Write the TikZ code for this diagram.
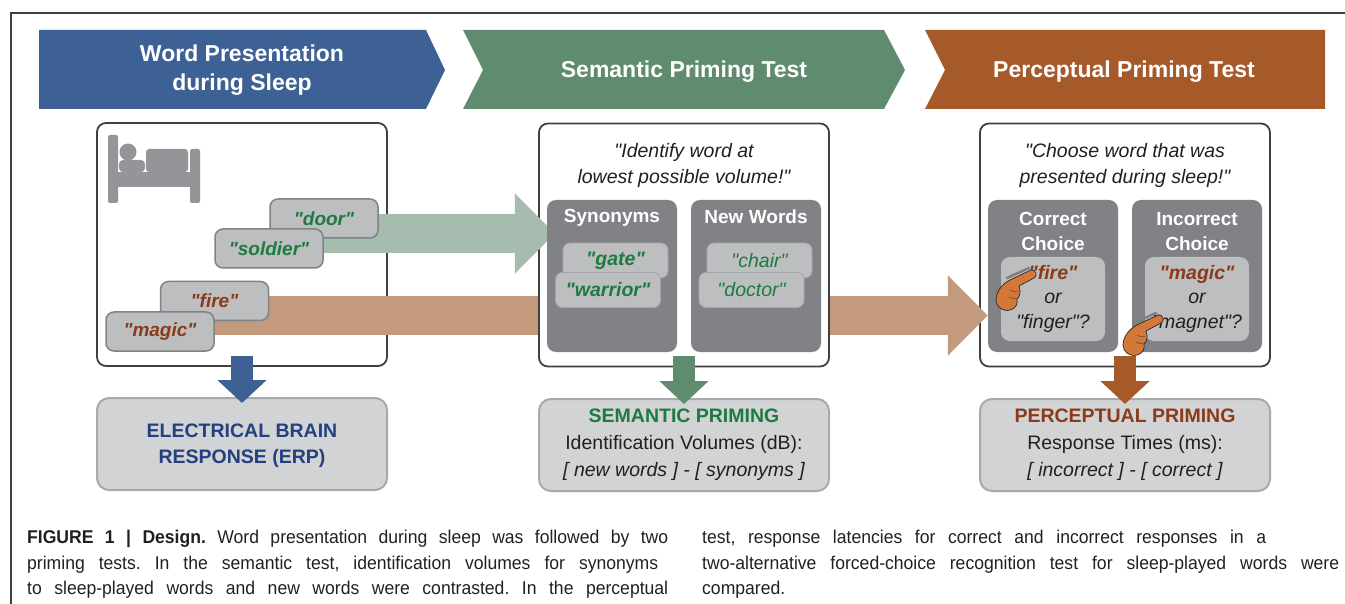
\documentclass[tikz,border=0pt]{standalone}
\usepackage{fontspec}
\setmainfont{Liberation Sans}[Ligatures=TeXOff]
\newfontfamily\capfont{Liberation Sans}[FakeStretch=0.95]
\usetikzlibrary{arrows.meta}
\frenchspacing
\definecolor{cblue}{HTML}{3D6194}
\definecolor{cgreen}{HTML}{5F8B6F}
\definecolor{corange}{HTML}{A65A2A}
\definecolor{sagec}{HTML}{A6BCAF}
\definecolor{tanc}{HTML}{C49A7F}
\definecolor{dgray}{HTML}{808285}
\definecolor{lgray}{HTML}{BCBEC0}
\definecolor{igray}{HTML}{A3A5A8}
\definecolor{bgray}{HTML}{D1D3D4}
\definecolor{bedge}{HTML}{A7A9AC}
\definecolor{bedc}{HTML}{939598}
\definecolor{tgreen}{HTML}{1E7B40}
\definecolor{tbrown}{HTML}{8B3A1A}
\definecolor{tblue}{HTML}{24407F}
\definecolor{handc}{HTML}{D4783A}
\definecolor{framec}{HTML}{404040}
\definecolor{txt}{HTML}{231F20}
\pgfdeclarelayer{lone}
\pgfdeclarelayer{ltwo}
\pgfdeclarelayer{lthree}
\pgfdeclarelayer{lfour}
\pgfsetlayers{lone,ltwo,lthree,lfour,main}
\tikzset{
 panel/.style={draw=framec, line width=1.8pt, rounded corners=9pt, fill=white, minimum width=290pt, minimum height=243pt, inner sep=0pt},
 wordbox/.style={draw=dgray, fill=lgray, line width=1.5pt, rounded corners=8pt, minimum width=108pt, minimum height=39pt, inner sep=0pt, font=\fontsize{19}{22}\selectfont\bfseries\itshape},
 catbox/.style={fill=dgray, rounded corners=9pt, minimum width=130pt, minimum height=152pt, inner sep=0pt},
 inbox/.style={fill=lgray, draw=igray, line width=0.8pt, rounded corners=7pt, minimum width=105pt, minimum height=35pt, inner sep=0pt, font=\fontsize{19.5}{22}\selectfont\itshape, text=tgreen},
 choicebox/.style={fill=lgray, rounded corners=9pt, minimum width=104pt, minimum height=84pt, inner sep=0pt},
 resbox/.style={fill=bgray, draw=bedge, line width=2pt, rounded corners=12pt, minimum width=290pt, minimum height=92pt, inner sep=0pt, align=center, text=txt, font=\fontsize{19.5}{26.5}\selectfont},
 hdr/.style={text=white, font=\fontsize{23}{28.5}\selectfont\bfseries, align=center},
 cathdr/.style={text=white, font=\fontsize{19}{24.5}\selectfont\bfseries, align=center},
 quotetext/.style={text=txt, font=\fontsize{19.5}{26}\selectfont\itshape, align=center},
 choicetext/.style={text=txt, font=\fontsize{19.5}{24.5}\selectfont\itshape, align=center},
 downarrow/.style={line width=22pt, -{Triangle[width=48pt,length=23pt]}},
 bigarrow/.style={line width=39pt, -{Triangle[width=78pt,length=40pt]}},
 captext/.style={font=\capfont\fontsize{18.5}{25}\selectfont, text=txt, inner sep=0pt, anchor=base west},
 pointer/.pic={
  \draw[line width=2.5pt, black!50, line cap=round] (-27,1) -- (-5,-9);
  \draw[fill=handc, draw=black!85, line width=0.7pt] (-24,3) -- (-3,-7) .. controls (2,-8) and (4,-1) .. (0,1) -- (-15,9) .. controls (-13,14) and (-14,20) .. (-17,22) .. controls (-16,26) and (-18,32) .. (-24,33) .. controls (-31,35) and (-38,30) .. (-38,23) .. controls (-38,15) and (-32,7) .. (-24,3) -- cycle;
  \draw[black!70, line width=0.5pt] (-16,14) .. controls (-20,15) .. (-24,13) (-17,21) .. controls (-21,22) .. (-25,20);
 }
}
\begin{document}
\begin{tikzpicture}[x=1pt,y=-1pt]
\useasboundingbox (0,0) rectangle (1345,604);
\draw[framec, line width=1.5pt] (1345,13) -- (11,13) -- (11,604);
% chevrons
\fill[cblue] (39,30) -- (426,30) -- (445,70) -- (426,109) -- (39,109) -- cycle;
\fill[cgreen] (463,30) -- (884,30) -- (905,70) -- (884,109) -- (463,109) -- (483,70) -- cycle;
\fill[corange] (925,30) -- (1325,30) -- (1325,109) -- (925,109) -- (945,70) -- cycle;
\node[hdr] (h1) at (242,70) {Word Presentation\\during Sleep};
\node[hdr] (h2) at (684,72) {Semantic Priming Test};
\node[hdr] (h3) at (1124,72) {Perceptual Priming Test};
% panels
\begin{pgfonlayer}{lone}
\node[panel] (b1) at (242,244.5) {};
\node[panel] (b3) at (1125,245) {};
\end{pgfonlayer}
\begin{pgfonlayer}{lthree}
\node[panel] (b2) at (684,245) {};
\end{pgfonlayer}
% bed icon
\begin{scope}[bedc]
\fill[rounded corners=2pt] (108,135) rectangle (118,203);
\fill (117,172) rectangle (192,187);
\fill[rounded corners=2pt] (190,149) rectangle (200,203);
\fill (128,152) circle (8.5);
\fill[rounded corners=4pt] (119,160) rectangle (145,172);
\fill[rounded corners=3pt] (146,149) rectangle (188,172);
\end{scope}
% word boxes
\coordinate (gs) at (300,233.5);
\coordinate (ts) at (200,315.5);
\node[wordbox, text=tgreen] (door) at (324,218.5) {"door"};
\node[wordbox, text=tgreen] (soldier) at (269,248.5) {"soldier"};
\node[wordbox, text=tbrown] (fire) at (214.5,301) {"fire"};
\node[wordbox, text=tbrown] (magic) at (160,331.5) {"magic"};
% semantic panel
\node[quotetext] (q2) at (684,165) {"Identify word at\\lowest possible volume!"};
\node[catbox] (syn) at (612,276) {};
\node[catbox] (neww) at (756,276) {};
\node[cathdr] (synh) at (612,218) {Synonyms};
\node[cathdr] (newh) at (756,217) {New Words};
\node[inbox, font=\fontsize{19.5}{22}\selectfont\bfseries\itshape] (gate) at (615.5,260.5) {"gate"};
\node[inbox, font=\fontsize{19.5}{22}\selectfont\bfseries\itshape] (warrior) at (608,290) {"warrior"};
\node[inbox] (chair) at (759.5,260.5) {"chair"};
\node[inbox] (doctor) at (751.5,290) {"doctor"};
% perceptual panel
\node[quotetext] (q3) at (1125,165) {"Choose word that was\\presented during sleep!"};
\node[catbox] (cor) at (1053,276) {};
\node[catbox] (inc) at (1197,276) {};
\node[cathdr] (corh) at (1053,231.5) {Correct\\Choice};
\node[cathdr] (inch) at (1197,231.5) {Incorrect\\Choice};
\node[choicebox] (corin) at (1053,299) {};
\node[choicebox] (incin) at (1197,299) {};
\node[choicetext] (cort) at (1053,298.5) {{\bfseries\color{tbrown}"fire"}\\or\\"finger"?};
\node[choicetext] (inct) at (1197,298.5) {{\bfseries\color{tbrown}"magic"}\\or\\"magnet"?};
\pic at (1034,277) {pointer};
\pic at (1161,322) {pointer};
% big arrows
\begin{pgfonlayer}{ltwo}
\draw[bigarrow, tanc] (ts) -- (ts -| cor.west);
\end{pgfonlayer}
\begin{pgfonlayer}{lfour}
\draw[bigarrow, sagec, shorten >=-8pt] (gs) -- (gs -| syn.west);
\end{pgfonlayer}
% result boxes
\node[resbox] (erp) at (242,444) {};
\node[text=tblue, align=center, font=\fontsize{19.5}{25.5}\selectfont\bfseries] (erpt) at (242,445.5) {ELECTRICAL BRAIN\\RESPONSE (ERP)};
\node[resbox, font=\fontsize{19.5}{27}\selectfont] (sem) at (684,445) {{\bfseries\color{tgreen}SEMANTIC PRIMING}\\Identification Volumes (dB):\\{\itshape [ new words ] - [ synonyms ]}};
\node[resbox, font=\fontsize{19.5}{27}\selectfont] (per) at (1125,445) {{\bfseries\color{tbrown}PERCEPTUAL PRIMING}\\Response Times (ms):\\{\itshape [ incorrect ] - [ correct ]}};
% down arrows
\draw[downarrow, cblue] ([yshift=11pt]b1.south) -- ([yshift=-6pt]erp.north);
\draw[downarrow, cgreen] ([yshift=11pt]b2.south) -- ([yshift=-6pt]sem.north);
\draw[downarrow, corange] ([yshift=11pt]b3.south) -- ([yshift=-6pt]per.north);
% caption
\node[captext] (c1) at (27,543) {\makebox[641pt][s]{\textbf{FIGURE 1 | Design.} Word presentation during sleep was followed by two}};
\node[captext] (c2) at (27,569) {\makebox[631pt][s]{priming tests. In the semantic test, identification volumes for synonyms}};
\node[captext] (c3) at (27,594) {\makebox[641pt][s]{to sleep-played words and new words were contrasted. In the perceptual}};
\node[captext] (c4) at (702,543) {\makebox[564pt][s]{test, response latencies for correct and incorrect responses in a}};
\node[captext] (c5) at (702,569) {\makebox[637pt][s]{two-alternative forced-choice recognition test for sleep-played words were}};
\node[captext] (c6) at (702,594) {compared.};
\end{tikzpicture}
\end{document}
